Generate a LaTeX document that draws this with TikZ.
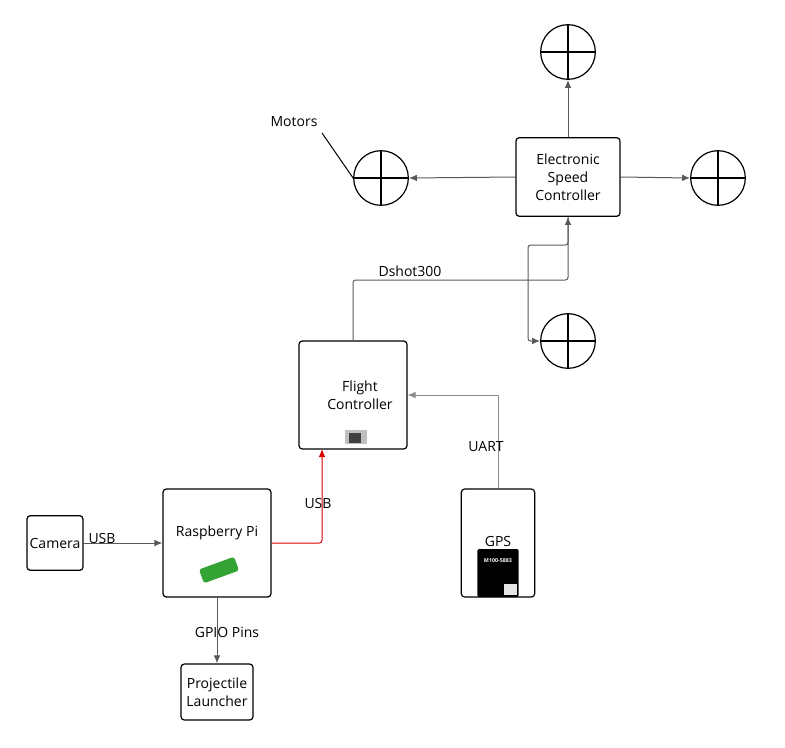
\documentclass[tikz,border=0pt]{standalone}
\usepackage{fontspec}
\setmainfont{Open Sans}
\usetikzlibrary{arrows.meta}
\tikzset{every picture/.style={line width=0.75pt}}
\tikzset{
  box/.style={draw, rounded corners=2.5pt, line width=0.9pt, align=center,
              font=\fontsize{10.5}{13.5}\selectfont},
  motor/.style={draw, circle, minimum size=41pt, inner sep=0pt, line width=0.9pt,
              path picture={
                \draw (path picture bounding box.north) -- (path picture bounding box.south);
                \draw (path picture bounding box.west) -- (path picture bounding box.east);}},
  link/.style={draw=black!65, -{Latex[length=6pt,width=5pt]}},
  lbl/.style={font=\fontsize{10.5}{13.5}\selectfont, inner sep=0.75pt, align=center}
}
\begin{document}
\begin{tikzpicture}[x=0.75pt, y=0.75pt, yscale=-1, xscale=1]
    \useasboundingbox (0,0) rectangle (785,747);

    % Boxes
    \node [box, minimum width=78pt, minimum height=59pt] (esc) at (568,177)
          {Electronic\\Speed\\Controller};
    \node [box, minimum width=81pt, minimum height=81pt] (fc) at (353,395) {};
    \node [lbl] at (360,395) {Flight\\Controller};
    \node [box, minimum width=42pt, minimum height=41pt, inner sep=0pt] (cam) at (55,543) {Camera};
    \node [box, minimum width=81pt, minimum height=81pt] (pi) at (217,543) {};
    \node [lbl] at (217,533) {Raspberry Pi};
    \node [box, minimum width=55pt, minimum height=81pt] (gps) at (498,543) {};
    \node [lbl] at (498,541) {GPS};
    \node [box, minimum width=54pt, minimum height=42pt] (launcher) at (217,692)
          {Projectile\\Launcher};

    % Board pictures
    \node [fill=black!25, minimum width=16pt, minimum height=10pt, inner sep=0pt] (fcimg) at (356,437) {};
    \fill [black!75] (349,433) rectangle (361,443);
    \node [fill=green!55!black!80, rounded corners=2pt, rotate=20,
           minimum width=28pt, minimum height=11pt, inner sep=0pt] (piimg) at (219,570) {};
    \node [fill=black, rounded corners=1.5pt, minimum width=31pt, minimum height=36pt,
           inner sep=0pt] (gpsimg) at (498,573) {};
    \node [text=white, font=\fontsize{4}{4}\bfseries\selectfont] at (498,561) {M100-5883};
    \fill [black!10] (504,584) rectangle (517,595);

    % Motors
    \node [motor] (mtop)    at (568, 52) {};
    \node [motor] (mleft)   at (381,178) {};
    \node [motor] (mright)  at (718,178) {};
    \node [motor] (mbottom) at (568,341) {};

    % Label: motors
    \node [lbl] (mlabel) at (294,122) {Motors};
    \draw (322,133) -- (mleft.west);

    % ESC - motors
    \draw [link] (esc.north) -- (mtop.south);
    \draw [link] (esc.west) -- (mleft.east);
    \draw [link] (esc.east) -- (mright.west);
    \draw [link, rounded corners=2pt] (esc.south) -- (568,245) -- (528,245) |- (mbottom.west);

    % FC - ESC
    \draw [link, rounded corners=2pt] (fc.north) -- (353,280) -- (568,280) -- (esc.south);
    \node [lbl, anchor=south] at (410,278) {Dshot300};

    % Pi - FC
    \draw [draw=red!85!black, -{Latex[length=6pt,width=5pt]}, rounded corners=2pt]
          (pi.east) -- (322,543) -- (322,449);
    \node [lbl] at (318,503) {USB};

    % GPS - FC
    \draw [link, draw=black!45] (gps.north) |- (fc.east);
    \node [lbl] at (486,447) {UART};

    % Camera - Pi
    \draw [link] (cam.east) -- (pi.west);
    \node [lbl] at (102,538) {USB};

    % Pi - launcher
    \draw [link] (pi.south) -- (launcher.north);
    \node [lbl] at (227,632) {GPIO Pins};
\end{tikzpicture}
\end{document}
